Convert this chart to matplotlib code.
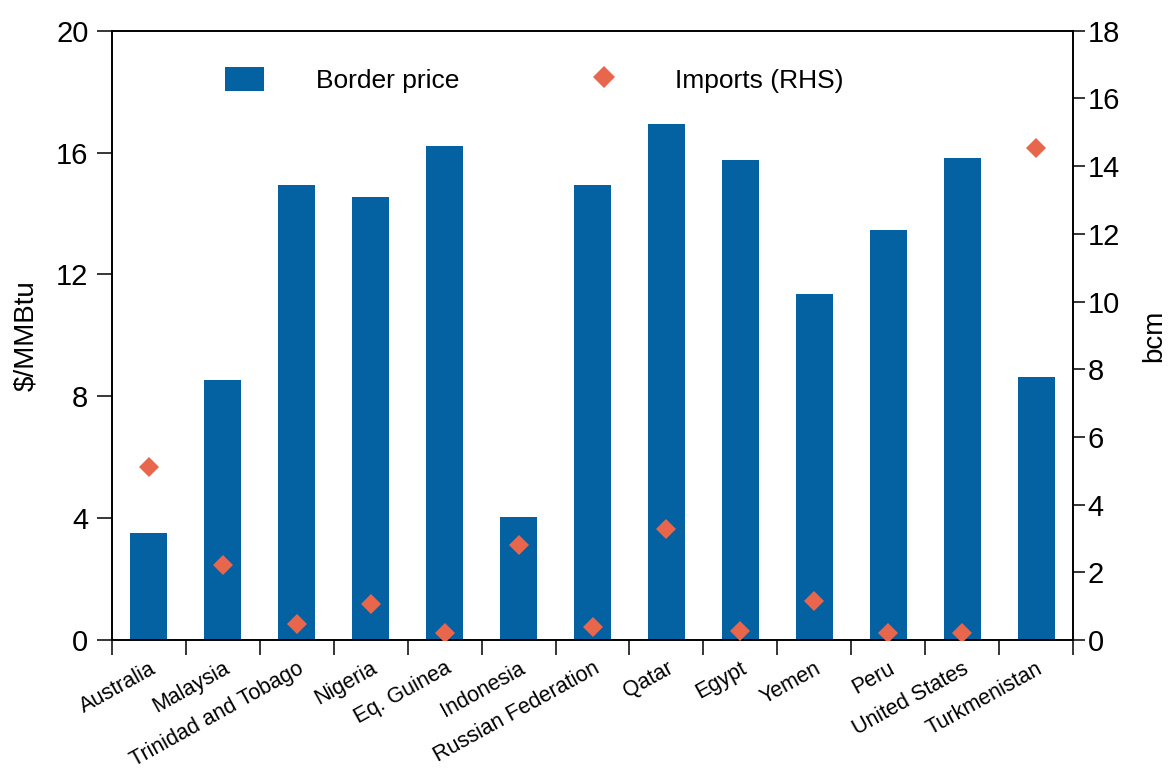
import numpy as np
import matplotlib.pyplot as plt
from matplotlib.lines import Line2D
from matplotlib.patches import Patch

plt.rcParams['font.family'] = ['Liberation Sans', 'DejaVu Sans']

# Data
countries = ['Australia', 'Malaysia', 'Trinidad and Tobago', 'Nigeria', 'Eq. Guinea',
             'Indonesia', 'Russian Federation', 'Qatar', 'Egypt', 'Yemen', 'Peru',
             'United States', 'Turkmenistan']
border_price = [3.5, 8.55, 14.95, 14.53, 16.2, 4.03, 14.95, 16.93, 15.77, 11.37, 13.45, 15.82, 8.62]
imports_bcm = [5.1, 2.23, 0.48, 1.05, 0.2, 2.8, 0.38, 3.28, 0.27, 1.16, 0.22, 0.22, 14.55]

blue = '#0562A2'
orange = '#E8674C'

fig = plt.figure(figsize=(11.68, 7.72), dpi=100)
ax = fig.add_axes([0.0959, 0.171, 0.8228, 0.7892])
ax2 = ax.twinx()

x = np.arange(len(countries))
ax.bar(x, border_price, width=0.5, color=blue, zorder=2)
ax2.plot(x, imports_bcm, linestyle='none', marker='D', markersize=10.5,
         color=orange, markeredgewidth=0, zorder=3)

ax.set_xlim(-0.5, len(countries) - 0.5)
ax.set_ylim(0, 20)
ax2.set_ylim(0, 18)

ax.set_yticks([0, 4, 8, 12, 16, 20])
ax2.set_yticks(np.arange(0, 19, 2))

# ticks on category boundaries, labels at centres
ax.set_xticks(np.arange(-0.5, len(countries)), [''] * (len(countries) + 1))
ax.set_xticks(x, countries, minor=True, rotation=29, ha='right',
              rotation_mode='anchor', fontsize=15.5)
ax.tick_params(axis='x', which='major', direction='out', length=11, width=1.1)
ax.tick_params(axis='x', which='minor', length=0, pad=13)
ax.tick_params(axis='y', direction='out', length=11, width=1.1, labelsize=21, pad=6)
ax2.tick_params(axis='y', direction='out', length=8.5, width=1.1, labelsize=21, pad=2)

for a in (ax, ax2):
    for s in a.spines.values():
        s.set_linewidth(1.2)

ax.set_ylabel('$/MMBtu', fontsize=20, labelpad=12)
ax2.set_ylabel('bcm', fontsize=20, labelpad=15)

handles = [Patch(facecolor=blue, edgecolor='none'),
           Line2D([], [], linestyle='none', marker='D', markersize=11,
                  color=orange, markeredgewidth=0)]
ax.legend(handles, ['Border price', 'Imports (RHS)'], ncol=2, frameon=False,
          fontsize=19, loc='upper left', bbox_to_anchor=(0.1176, 0.941),
          borderpad=0, borderaxespad=0,
          handlelength=1.48, handleheight=1.06, handletextpad=1.95, columnspacing=4.75)

fig.savefig('out.png', dpi=100)
